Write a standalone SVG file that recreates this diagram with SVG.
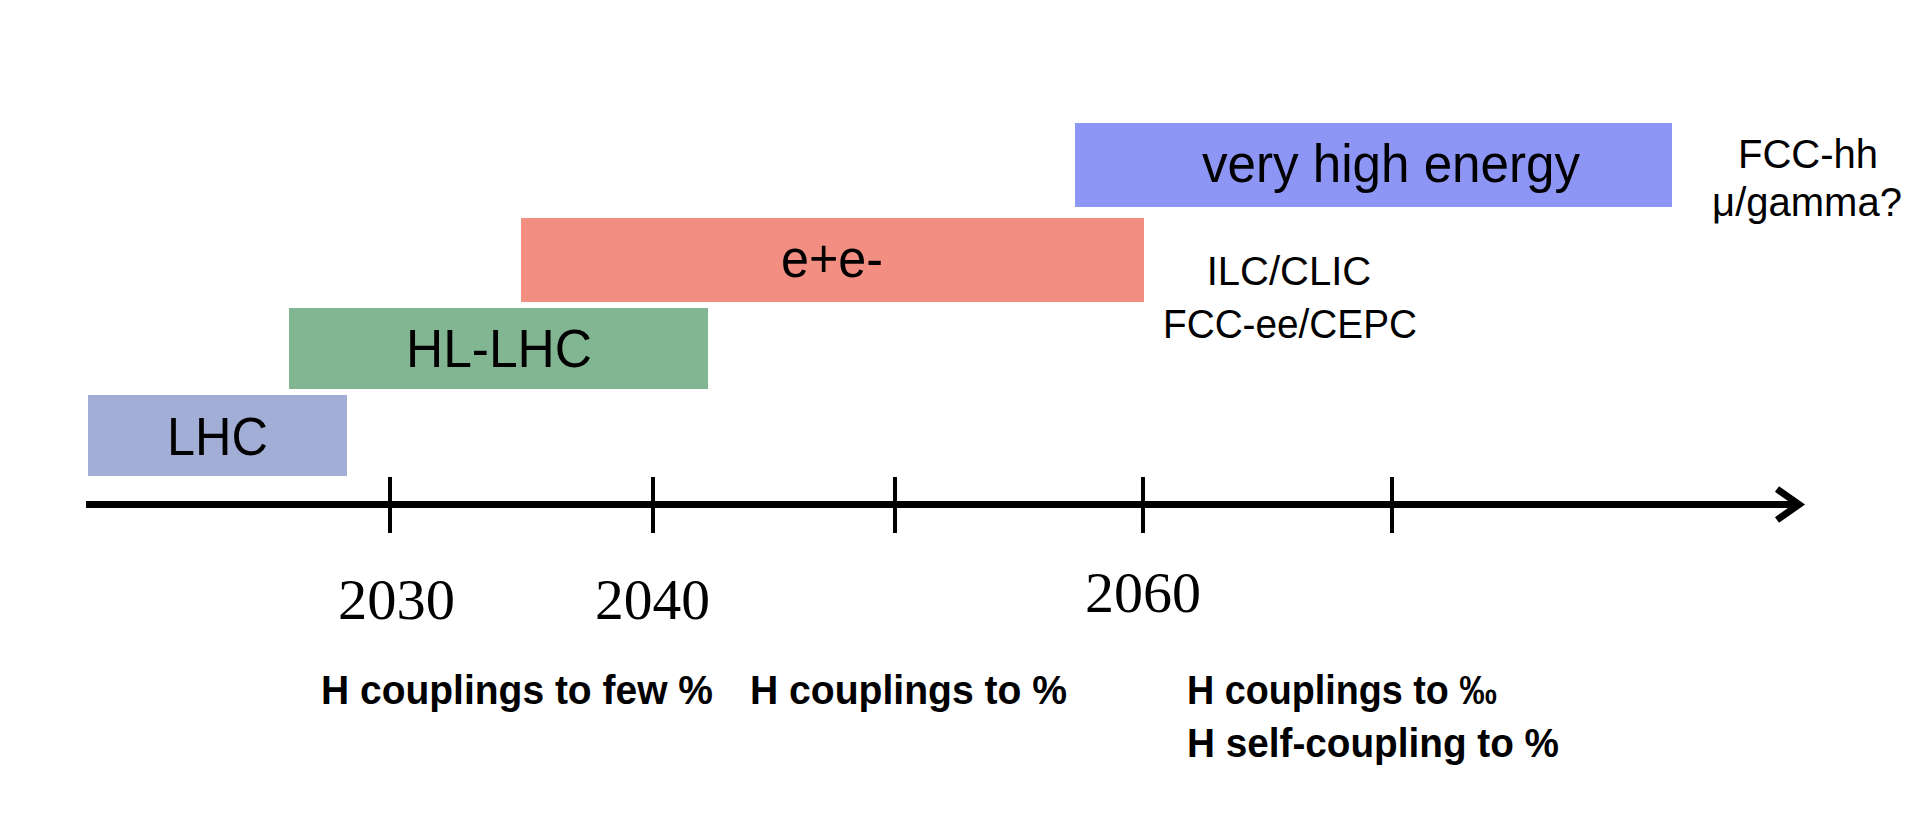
<svg xmlns="http://www.w3.org/2000/svg" width="1916" height="824" viewBox="0 0 1916 824">
  <style>
    .box-label { font-family: "Liberation Sans", Arial, sans-serif; font-size: 54px; fill: #000; text-anchor: middle; }
    .side { font-family: "Liberation Sans", Arial, sans-serif; font-size: 40px; fill: #000; text-anchor: middle; }
    .year { font-family: "Liberation Serif", "Times New Roman", serif; font-size: 57px; fill: #000; }
    .goal { font-family: "Liberation Sans", Arial, sans-serif; font-size: 40px; font-weight: bold; fill: #000; }
    .axis { stroke: #000; stroke-width: 7; fill: none; }
    .tick { stroke: #000; stroke-width: 4; }
  </style>
  <rect width="1916" height="824" fill="#ffffff"/>

  <g id="connectors">
    <line class="axis" x1="86" y1="504.5" x2="1798" y2="504.5"/>
    <polyline class="axis" points="1777,489 1799,504.5 1777,520" stroke-linejoin="miter"/>
    <line class="tick" x1="390" y1="477" x2="390" y2="533"/>
    <line class="tick" x1="653" y1="477" x2="653" y2="533"/>
    <line class="tick" x1="895" y1="477" x2="895" y2="533"/>
    <line class="tick" x1="1143" y1="477" x2="1143" y2="533"/>
    <line class="tick" x1="1392" y1="477" x2="1392" y2="533"/>
  </g>

  <g id="lhc">
    <rect x="88" y="395" width="259" height="81" fill="#a3aed6"/>
    <text class="box-label" x="217.5" y="455" textLength="101" lengthAdjust="spacingAndGlyphs">LHC</text>
  </g>

  <g id="hl-lhc">
    <rect x="289" y="308" width="419" height="81" fill="#82b592"/>
    <text class="box-label" x="499" y="367" textLength="186" lengthAdjust="spacingAndGlyphs">HL-LHC</text>
  </g>

  <g id="ee">
    <rect x="521" y="218" width="623" height="84" fill="#f28f82"/>
    <text class="box-label" x="832" y="277" textLength="102" lengthAdjust="spacingAndGlyphs">e+e-</text>
  </g>

  <g id="vhe">
    <rect x="1075" y="123" width="597" height="84" fill="#8d95f5"/>
    <text class="box-label" x="1391" y="182" textLength="378" lengthAdjust="spacingAndGlyphs">very high energy</text>
  </g>

  <g id="ee-machines">
    <text class="side" x="1289" y="285">ILC/CLIC</text>
    <text class="side" x="1290" y="338" textLength="254" lengthAdjust="spacingAndGlyphs">FCC-ee/CEPC</text>
  </g>

  <g id="vhe-machines">
    <text class="side" x="1808" y="168">FCC-hh</text>
    <text class="side" x="1807" y="216">μ/gamma?</text>
  </g>

  <g id="years">
    <text class="year" x="338" y="619" textLength="117" lengthAdjust="spacingAndGlyphs">2030</text>
    <text class="year" x="595" y="619" textLength="115" lengthAdjust="spacingAndGlyphs">2040</text>
    <text class="year" x="1085" y="612" textLength="116" lengthAdjust="spacingAndGlyphs">2060</text>
  </g>

  <g id="goals">
    <text class="goal" x="321" y="704" textLength="392" lengthAdjust="spacingAndGlyphs">H couplings to few %</text>
    <text class="goal" x="750" y="704" textLength="317" lengthAdjust="spacingAndGlyphs">H couplings to %</text>
    <text class="goal" x="1187" y="704" textLength="310" lengthAdjust="spacingAndGlyphs">H couplings to ‰</text>
    <text class="goal" x="1187" y="757" textLength="372" lengthAdjust="spacingAndGlyphs">H self-coupling to %</text>
  </g>
</svg>
